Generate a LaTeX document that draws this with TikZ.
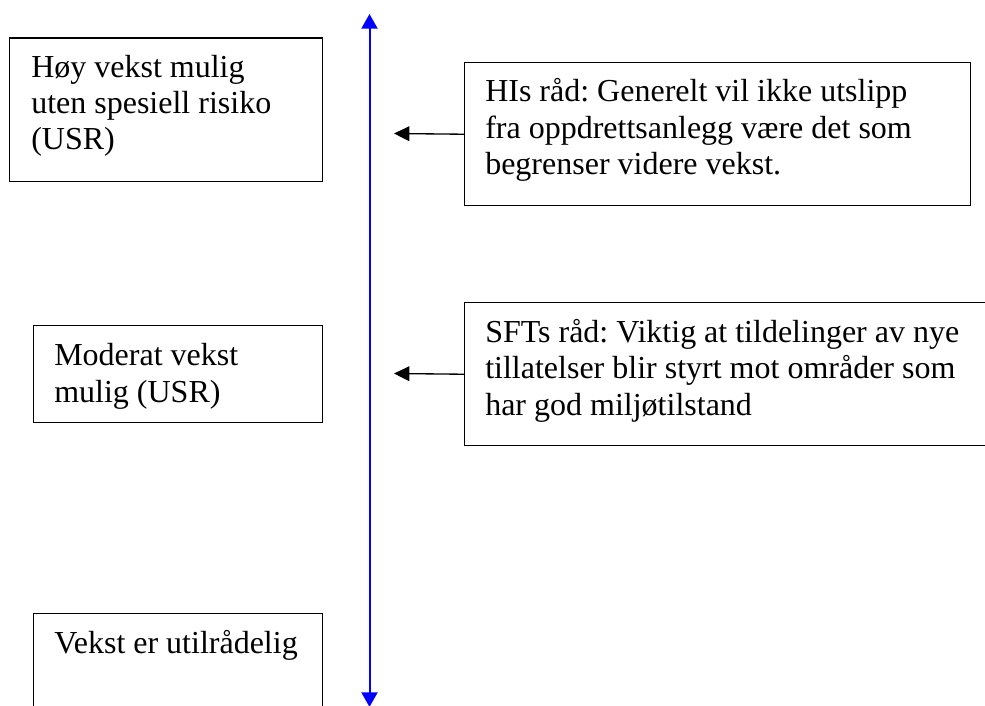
\documentclass[tikz,border=0pt]{standalone}
\usepackage{fontspec}
\setmainfont{Liberation Serif}
\usetikzlibrary{arrows.meta}
\frenchspacing
\begin{document}
\begin{tikzpicture}[x=0.75pt,y=-0.75pt,
  box/.style={draw=black, line width=1.1pt, inner sep=0pt, anchor=north west},
  txt/.style={inner sep=0pt, anchor=base west, font=\fontsize{24pt}{27.6pt}\selectfont},
  axis/.style={draw=blue, line width=1.5pt, {Triangle[length=11pt,width=12pt]}-{Triangle[length=11pt,width=12pt]}},
  pointer/.style={draw=black, line width=1pt, -{Triangle[length=11.5pt,width=11pt]}}]
\useasboundingbox (0,0) rectangle (985,706);
% left boxes
\node[box, minimum width=313*0.75pt, minimum height=143.5*0.75pt] (b1) at (9,37.5) {};
\node[box, minimum width=289*0.75pt, minimum height=97*0.75pt] (b2) at (33,325) {};
\node[box, minimum width=289*0.75pt, minimum height=120*0.75pt] (b3) at (33,613) {};
% right boxes
\node[box, minimum width=506*0.75pt, minimum height=143*0.75pt] (r1) at (464,62) {};
\node[box, minimum width=530*0.75pt, minimum height=143*0.75pt] (r2) at (464,302) {};
% texts
\node[txt] (t11) at (31,78) {Høy vekst mulig};
\node[txt] (t12) at (31,114) {uten spesiell risiko};
\node[txt] (t13) at (31,150) {(USR)};
\node[txt] (t21) at (54,365) {Moderat vekst};
\node[txt] (t22) at (54,402) {mulig (USR)};
\node[txt] (t31) at (54,653) {Vekst er utilrådelig};
\node[txt] (u11) at (485,102) {HIs råd: Generelt vil ikke utslipp};
\node[txt] (u12) at (485,139) {fra oppdrettsanlegg være det som};
\node[txt] (u13) at (485,175) {begrenser videre vekst.};
\node[txt] (u21) at (485,342) {SFTs råd: Viktig at tildelinger av nye};
\node[txt] (u22) at (485,378) {tillatelser blir styrt mot områder som};
\node[txt] (u23) at (485,415) {har god miljøtilstand};
% axis
\coordinate (atop) at (369.5,14);
\coordinate (abot) at (369.5,707);
\draw[axis] (atop) -- (abot);
% pointers
\coordinate (p1) at (394,133.5);
\coordinate (p2) at (394,373.5);
\draw[pointer] (r1.west) -- (p1);
\draw[pointer] (r2.west) -- (p2);
\end{tikzpicture}
\end{document}
